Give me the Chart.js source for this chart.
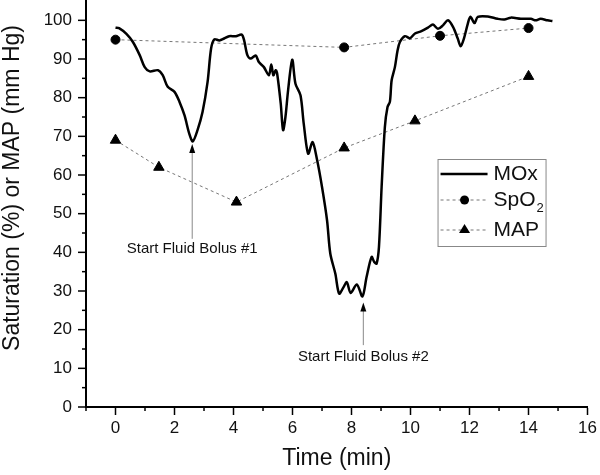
<!DOCTYPE html>
<html>
<head>
<meta charset="utf-8">
<script src="https://cdn.jsdelivr.net/npm/chart.js@4"></script>
<style>
  body { margin: 0; background: #fff; overflow: hidden; }
  /* Chart.js keeps a few px above the plot; shift the canvas up so the axis starts at the top edge */
  canvas { display: block; margin-top: -6px; }
</style>
</head>
<body>
<canvas id="chart" width="600" height="481"></canvas>
<script>
// MOx trace (time in min, saturation %)
var moxTime = [0.00, 0.12, 0.37, 0.59, 0.82, 0.99, 1.16, 1.44, 1.60, 1.77, 2.00, 2.17, 2.34, 2.50, 2.62, 2.78, 2.95, 3.12, 3.24, 3.35,
  3.52, 3.68, 3.85, 4.08, 4.28, 4.36, 4.47, 4.58, 4.75, 4.86, 5.03, 5.20, 5.28, 5.35, 5.43, 5.48, 5.60, 5.68, 5.76, 5.85,
  5.99, 6.10, 6.27, 6.38, 6.53, 6.68, 6.83, 7.00, 7.17, 7.28, 7.45, 7.58, 7.73, 7.84, 7.97, 8.18, 8.37, 8.51, 8.68, 8.77,
  8.85, 8.93, 9.02, 9.13, 9.22, 9.30, 9.36, 9.47, 9.56, 9.64, 9.81, 9.98, 10.15, 10.37, 10.59, 10.76, 10.93, 11.10, 11.27, 11.44,
  11.60, 11.70, 11.81, 11.94, 12.03, 12.17, 12.28, 12.62, 12.95, 13.18, 13.40, 13.74, 14.08, 14.24, 14.41, 14.64, 14.81];
var moxValue = [98.1, 98.0, 96.5, 94.4, 91.0, 87.9, 86.8, 87.1, 85.8, 82.8, 81.5, 78.9, 75.4, 70.7, 68.7, 71.6, 76.3, 84.0, 92.7, 95.1,
  94.8, 95.3, 95.9, 95.9, 96.3, 94.8, 91.0, 90.1, 90.9, 89.2, 87.9, 85.8, 88.6, 85.8, 87.1, 86.2, 78.5, 71.6, 75.0, 81.9,
  89.8, 83.6, 80.6, 73.3, 65.5, 68.5, 64.0, 56.9, 48.3, 39.7, 34.5, 29.3, 31.0, 32.3, 29.5, 31.7, 28.6, 33.6, 38.8, 37.5,
  37.1, 41.4, 56.9, 72.4, 77.6, 78.9, 84.5, 87.9, 92.2, 94.4, 95.9, 95.4, 96.6, 97.2, 98.1, 98.9, 97.8, 98.7, 100.0, 98.3,
  95.3, 93.3, 95.3, 99.1, 100.9, 99.3, 100.9, 101.0, 100.4, 100.2, 100.7, 100.4, 100.4, 100.0, 100.4, 100.0, 99.8];

// SpO2
var spo2Time = [0, 7.75, 11.0, 14.0];
var spo2Value = [95, 93, 96, 98];

// MAP
var mapTime = [0, 1.47, 4.1, 7.75, 10.15, 14.0];
var mapValue = [69, 62, 53, 67, 74, 85.5];

// annotations: arrow tip / tail and label position in data units
var noteText = ['Start Fluid Bolus #1', 'Start Fluid Bolus #2'];
var noteX = [2.6, 8.4];
var noteTip = [68, 27];
var noteTail = [43.5, 16];
var noteLabelY = [41, 12.9];

var yTitle = 'Saturation (%) or MAP (mm Hg)';

var FONT = '"Liberation Sans", Arial, sans-serif';

function toXY(xs, ys) {
  return xs.map(function (x, i) { return { x: x, y: ys[i] }; });
}

// y title, ticks, minor ticks, arrows, legend
var extras = {
  id: 'extras',
  afterDraw: function (chart) {
    var c = chart.ctx;
    var xs = chart.scales.x, ys = chart.scales.y;
    var area = chart.chartArea;
    c.save();

    // y axis title (sits a bit above the axis middle in the original)
    c.save();
    c.translate(13, area.top + 187);
    c.rotate(-Math.PI / 2);
    c.font = '23px ' + FONT;
    c.fillStyle = '#111';
    c.textAlign = 'center';
    c.textBaseline = 'middle';
    c.fillText(yTitle, 0, 0);
    c.restore();

    c.strokeStyle = '#000';
    c.lineWidth = 1.5;
    // minor x ticks
    for (var v = -1; v <= 15; v += 2) {
      var px = xs.getPixelForValue(v);
      c.beginPath(); c.moveTo(px, area.bottom); c.lineTo(px, area.bottom + 4); c.stroke();
    }
    // y ticks: major every 10, minor every 5
    for (var w = 0; w <= 100; w += 5) {
      var py = ys.getPixelForValue(w);
      var len = (w % 10 === 0) ? 8 : 4;
      c.beginPath(); c.moveTo(area.left, py); c.lineTo(area.left - len, py); c.stroke();
    }

    // arrows + labels
    c.font = '15px ' + FONT;
    c.textAlign = 'center';
    c.textBaseline = 'middle';
    for (var i = 0; i < noteText.length; i++) {
      var ax = xs.getPixelForValue(noteX[i]);
      var tip = ys.getPixelForValue(noteTip[i]);
      var tail = ys.getPixelForValue(noteTail[i]);
      c.strokeStyle = '#888';
      c.lineWidth = 1;
      c.beginPath(); c.moveTo(ax, tip + 6); c.lineTo(ax, tail); c.stroke();
      c.fillStyle = '#000';
      c.beginPath(); c.moveTo(ax, tip); c.lineTo(ax - 3, tip + 9); c.lineTo(ax + 3, tip + 9); c.closePath(); c.fill();
      c.fillStyle = '#111';
      c.fillText(noteText[i], ax, ys.getPixelForValue(noteLabelY[i]));
    }

    // legend box
    var lx = area.right - 150, ly = area.top + 158, lw = 108, lh = 87;
    c.strokeStyle = '#888';
    c.lineWidth = 1;
    c.strokeRect(lx + 0.5, ly + 0.5, lw, lh);
    var rows = [ly + 15, ly + 41, ly + 71];
    var sx0 = lx + 3, sx1 = lx + 50, mid = lx + 27;
    c.font = '21px ' + FONT;
    c.textAlign = 'left';
    c.fillStyle = '#111';
    // MOx
    c.strokeStyle = '#000'; c.lineWidth = 2.5; c.setLineDash([]);
    c.beginPath(); c.moveTo(sx0, rows[0]); c.lineTo(sx1, rows[0]); c.stroke();
    c.fillText('MOx', lx + 56, rows[0]);
    // SpO2 and MAP
    c.strokeStyle = '#777'; c.lineWidth = 1; c.setLineDash([3, 3]);
    c.beginPath(); c.moveTo(sx0, rows[1]); c.lineTo(sx1, rows[1]); c.stroke();
    c.beginPath(); c.moveTo(sx0, rows[2]); c.lineTo(sx1, rows[2]); c.stroke();
    c.setLineDash([]);
    c.fillStyle = '#000';
    c.beginPath(); c.arc(mid, rows[1], 4.5, 0, Math.PI * 2); c.fill();
    c.beginPath(); c.moveTo(mid, rows[2] - 6); c.lineTo(mid - 5.5, rows[2] + 3); c.lineTo(mid + 5.5, rows[2] + 3); c.closePath(); c.fill();
    c.fillStyle = '#111';
    c.fillText('SpO', lx + 56, rows[1]);
    var so = c.measureText('SpO').width;
    c.font = '13px ' + FONT;
    c.fillText('2', lx + 56 + so + 1, rows[1] + 8);
    c.font = '21px ' + FONT;
    c.fillText('MAP', lx + 56, rows[2]);
    c.restore();
  }
};

var ctx = document.getElementById('chart').getContext('2d');
var myChart = new Chart(ctx, {
  type: 'line',
  data: {
    datasets: [{
      label: 'MOx',
      data: toXY(moxTime, moxValue),
      borderColor: '#000',
      borderWidth: 2.5,
      pointRadius: 0,
      tension: 0.3
    }, {
      label: 'SpO2',
      data: toXY(spo2Time, spo2Value),
      borderColor: '#777',
      borderWidth: 1,
      borderDash: [3, 3],
      pointStyle: 'circle',
      pointRadius: 4.5,
      pointBackgroundColor: '#000',
      pointBorderColor: '#000'
    }, {
      label: 'MAP',
      data: toXY(mapTime, mapValue),
      borderColor: '#777',
      borderWidth: 1,
      borderDash: [3, 3],
      pointStyle: 'triangle',
      pointRadius: 6,
      pointBackgroundColor: '#000',
      pointBorderColor: '#000'
    }]
  },
  options: {
    responsive: false,
    animation: false,
    layout: { padding: { top: 0, right: 10, left: 0, bottom: 0 } },
    plugins: {
      legend: { display: false },
      tooltip: { enabled: false }
    },
    scales: {
      x: {
        type: 'linear',
        min: -1,
        max: 16,
        afterBuildTicks: function (s) { s.ticks = s.ticks.filter(function (t) { return t.value % 2 === 0; }); },
        afterFit: function (s) { s.height = 68; },
        ticks: { stepSize: 2, includeBounds: false, autoSkip: false, padding: 3, color: '#111', font: { family: FONT, size: 17 }, maxRotation: 0 },
        grid: { drawOnChartArea: false, drawTicks: true, tickLength: 8, tickWidth: 1.5, tickColor: '#000' },
        border: { display: true, color: '#000', width: 2 },
        title: { display: true, text: 'Time (min)', color: '#111', font: { family: FONT, size: 23 }, padding: { top: 0, bottom: 3 } }
      },
      y: {
        min: 0,
        max: 105,
        afterBuildTicks: function (s) { s.ticks = s.ticks.filter(function (t) { return t.value % 10 === 0; }); },
        afterFit: function (s) { s.width = 86; s.paddingTop = 0; },
        // tick marks are drawn by the plugin; the gap below keeps labels off the axis
        ticks: { stepSize: 10, includeBounds: false, autoSkip: false, padding: 0, color: '#111', font: { family: FONT, size: 17 } },
        grid: { drawOnChartArea: false, drawTicks: true, tickLength: 14, tickColor: 'rgba(0,0,0,0)' },
        border: { display: true, color: '#000', width: 2 },
        title: { display: false }
      }
    }
  },
  plugins: [extras]
});
</script>
</body>
</html>
